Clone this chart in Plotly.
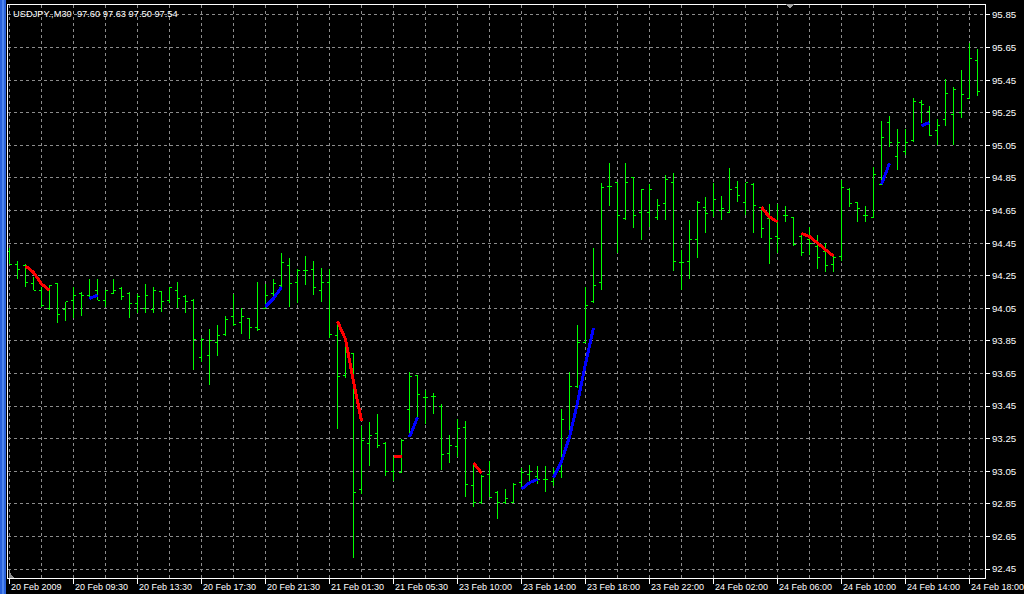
import plotly.graph_objects as go

# ---- data (USDJPY M30, bar index 0..121) ----
opens = [94.40,94.32,94.31,94.20,94.16,94.05,94.20,94.04,94.10,94.14,
         94.13,94.16,94.10,94.14,94.17,94.14,94.08,94.05,94.04,94.15,
         94.10,94.16,94.12,94.10,93.75,93.76,93.84,93.89,94.00,93.96,
         93.99,93.93,94.05,94.14,94.19,94.31,94.21,94.28,94.29,94.16,
         94.21,93.88,93.64,93.77,92.94,93.22,93.28,93.22,93.05,93.04,
         93.43,93.64,93.50,93.51,93.45,93.16,93.20,93.32,92.96,92.86,
         93.03,92.92,92.86,92.86,92.98,93.03,93.02,93.00,92.99,93.05,
         93.26,93.57,93.84,94.09,94.21,94.80,94.82,94.60,94.85,94.64,
         94.64,94.61,94.69,94.82,94.33,94.34,94.47,94.67,94.65,94.65,
         94.64,94.79,94.70,94.81,94.67,94.60,94.49,94.62,94.61,94.49,
         94.47,94.43,94.40,94.32,94.37,94.78,94.70,94.62,94.61,94.81,
         95.19,94.98,95.01,95.08,95.31,95.26,95.14,95.21,95.24,95.25,
         95.34,95.57]
highs = [94.42,94.34,94.32,94.24,94.18,94.19,94.20,94.09,94.18,94.15,
         94.23,94.23,94.16,94.23,94.18,94.15,94.14,94.20,94.18,94.15,
         94.18,94.21,94.13,94.11,93.87,93.92,93.95,94.00,94.14,94.05,
         93.99,94.21,94.20,94.23,94.39,94.36,94.29,94.37,94.34,94.30,
         94.29,93.97,93.87,93.77,93.33,93.35,93.40,93.23,93.14,93.25,
         93.66,93.64,93.55,93.53,93.46,93.27,93.37,93.36,93.10,93.03,
         93.11,92.93,92.94,92.98,93.07,93.09,93.08,93.08,93.07,93.43,
         93.66,93.95,94.18,94.42,94.82,94.94,94.82,94.94,94.85,94.78,
         94.81,94.72,94.87,94.88,94.41,94.59,94.71,94.73,94.82,94.74,
         94.91,94.83,94.82,94.82,94.67,94.69,94.69,94.68,94.61,94.51,
         94.55,94.50,94.45,94.38,94.84,94.79,94.70,94.68,94.92,95.20,
         95.23,95.15,95.15,95.34,95.33,95.29,95.21,95.46,95.41,95.51,
         95.68,95.64]
lows = [94.32,94.23,94.18,94.16,94.06,94.04,93.96,93.97,93.99,94.00,
        94.11,94.10,94.06,94.14,94.10,93.99,94.02,94.02,94.02,94.03,
        94.08,94.05,94.02,93.67,93.72,93.58,93.76,93.88,93.94,93.89,
        93.86,93.91,94.05,94.10,94.17,94.06,94.08,94.19,94.13,94.09,
        93.87,93.31,93.62,92.52,92.91,93.08,93.19,93.02,92.99,93.04,
        93.26,93.37,93.34,93.40,93.06,93.10,93.14,92.89,92.83,92.85,
        92.89,92.76,92.85,92.86,92.94,92.97,92.97,92.92,92.96,93.01,
        93.24,93.56,93.84,94.08,94.16,94.68,94.39,94.59,94.54,94.47,
        94.55,94.59,94.59,94.28,94.16,94.23,94.36,94.51,94.61,94.59,
        94.64,94.70,94.62,94.51,94.48,94.32,94.39,94.58,94.43,94.37,
        94.38,94.29,94.27,94.27,94.34,94.67,94.58,94.58,94.61,94.81,
        95.04,94.90,94.99,95.07,95.19,95.11,95.05,95.17,95.05,95.22,
        95.34,95.35]
closes = [94.32,94.29,94.21,94.16,94.07,94.19,94.01,94.09,94.13,94.13,
          94.11,94.10,94.16,94.16,94.12,94.08,94.12,94.13,94.16,94.09,
          94.18,94.11,94.09,93.86,93.86,93.85,93.88,93.98,93.95,94.00,
          93.93,93.92,94.13,94.20,94.33,94.20,94.28,94.28,94.18,94.21,
          93.89,93.63,93.83,92.92,93.24,93.27,93.21,93.05,93.14,93.24,
          93.63,93.52,93.50,93.51,93.15,93.21,93.31,92.97,92.86,93.02,
          92.89,92.86,92.88,92.97,93.04,93.05,93.00,93.00,93.05,93.37,
          93.57,93.84,94.07,94.19,94.79,94.80,94.62,94.82,94.62,94.78,
          94.78,94.68,94.84,94.34,94.33,94.47,94.70,94.63,94.72,94.66,
          94.78,94.74,94.82,94.68,94.54,94.48,94.48,94.62,94.44,94.39,
          94.45,94.36,94.31,94.36,94.79,94.69,94.66,94.62,94.87,95.10,
          95.07,95.07,95.07,95.32,95.30,95.11,95.17,95.37,95.39,95.36,
          95.58,95.38]

# indicator segments (None separates segments)
red_x = [2, 3, 4, 5, None, 41, 42, 43, 44, None, 48, 49, None, 58, 59, None,
         94, 95, 96, None, 99, 100, 101, 102, 103]
red_y = [94.31, 94.27, 94.20, 94.16, None, 93.97, 93.86, 93.60, 93.36, None,
         93.14, 93.14, None, 93.10, 93.04, None, 94.67, 94.61, 94.58, None,
         94.51, 94.49, 94.45, 94.41, 94.37]
blue_x = [10, 11, None, 32, 33, 34, None, 50, 51, None, 64, 65, 66, None,
          68, 69, 70, 71, 72, 73, None, 109, 110, None, 114, 115]
blue_y = [94.11, 94.13, None, 94.06, 94.11, 94.18, None, 93.26, 93.38, None,
          92.94, 92.98, 93.00, None, 93.01, 93.11, 93.26, 93.47, 93.71, 93.93,
          None, 94.81, 94.94, None, 95.17, 95.19]

x_tick_pos = [0, 8, 16, 24, 32, 40, 48, 56, 64, 72, 80, 88, 96, 104, 112, 120]
x_tick_labels = ["20 Feb 2009", "20 Feb 09:30", "20 Feb 13:30", "20 Feb 17:30",
                 "20 Feb 21:30", "21 Feb 01:30", "21 Feb 05:30", "23 Feb 10:00",
                 "23 Feb 14:00", "23 Feb 18:00", "23 Feb 22:00", "24 Feb 02:00",
                 "24 Feb 06:00", "24 Feb 10:00", "24 Feb 14:00", "24 Feb 18:00"]
y_tick_vals = [92.45, 92.65, 92.85, 93.05, 93.25, 93.45, 93.65, 93.85, 94.05,
               94.25, 94.45, 94.65, 94.85, 95.05, 95.25, 95.45, 95.65, 95.85]
title_text = "USDJPY.,M30\u00a0 97.60 97.63 97.50 97.54"

FONT = "Tahoma, 'Liberation Sans', Arial, sans-serif"
FS = 9.3
GRID = "#8c8c8c"

bars = list(range(len(opens)))

fig = go.Figure()
fig.add_trace(go.Ohlc(
    x=bars, open=opens, high=highs, low=lows, close=closes,
    increasing=dict(line=dict(color="#00ff00", width=1)),
    decreasing=dict(line=dict(color="#00ff00", width=1)),
    tickwidth=0.35, hoverinfo="skip", showlegend=False))
fig.add_trace(go.Scatter(x=red_x, y=red_y, mode="lines", connectgaps=False,
                         line=dict(color="#ff0000", width=3), showlegend=False,
                         hoverinfo="skip"))
fig.add_trace(go.Scatter(x=blue_x, y=blue_y, mode="lines", connectgaps=False,
                         line=dict(color="#0000ff", width=3), showlegend=False,
                         hoverinfo="skip"))

W, H = 1024, 594
ml, mr, mt, mb = 8, 39, 5, 16
plot_h = H - mt - mb
pw = W - ml - mr

annotations = []
for pos, lab in zip(x_tick_pos, x_tick_labels):
    annotations.append(dict(x=pos, xref="x", y=-9 / plot_h, yref="paper",
                            text=lab, showarrow=False, xanchor="left",
                            yanchor="middle", xshift=-1,
                            font=dict(family=FONT, size=9.0, color="white")))
annotations.append(dict(x=3 / pw, xref="paper", y=1 - 9 / plot_h,
                        yref="paper", text=title_text, showarrow=False,
                        xanchor="left", yanchor="middle",
                        font=dict(family=FONT, size=FS, color="white")))

shapes = [
    # window frame strip on the left
    dict(type="rect", xref="paper", yref="paper", x0=-8 / pw, x1=-2 / pw,
         y0=-mb / plot_h, y1=1 + mt / plot_h, fillcolor="#2a62dc",
         line=dict(width=0), layer="above"),
    dict(type="rect", xref="paper", yref="paper", x0=-6 / pw, x1=-4 / pw,
         y0=-mb / plot_h, y1=1 + mt / plot_h, fillcolor="#4f86ee",
         line=dict(width=0), layer="above"),
    # chart shift marker at the top
    dict(type="path", xref="paper", yref="paper",
         path=f"M {778/pw} {1+1/plot_h} L {786/pw} {1+1/plot_h} L {782/pw} {1-4/plot_h} Z",
         fillcolor="#a0a0a0", line=dict(width=0), layer="above"),
    # corner marker bottom-left
    dict(type="path", xref="paper", yref="paper",
         path=f"M {1/pw} 0 L {1/pw} {7/plot_h} L {6/pw} 0 Z",
         fillcolor="#8c8c8c", line=dict(width=0), layer="above"),
]

fig.update_layout(
    width=W, height=H,
    margin=dict(l=ml, r=mr, t=mt, b=mb, pad=0),
    paper_bgcolor="black", plot_bgcolor="black",
    showlegend=False,
    font=dict(family=FONT, size=FS, color="white"),
    annotations=annotations, shapes=shapes,
    xaxis=dict(range=[-0.1875, 121.9375], rangeslider=dict(visible=False),
               tickmode="array", tickvals=x_tick_pos, showticklabels=False,
               ticks="outside", ticklen=5, tickcolor="white", tickwidth=1,
               showgrid=True, gridcolor=GRID, griddash="3px,3px", gridwidth=1,
               minor=dict(tickmode="linear", tick0=0, dtick=4, showgrid=True,
                          gridcolor=GRID, griddash="3px,3px", gridwidth=1,
                          ticks=""),
               showline=True, linecolor="white", linewidth=1, mirror=True,
               zeroline=False, fixedrange=True),
    yaxis=dict(range=[92.395, 95.911], side="right",
               tickmode="array", tickvals=y_tick_vals,
               ticktext=[f"{v:.2f}" for v in y_tick_vals],
               ticks="outside", ticklen=4, tickcolor="white",
               tickfont=dict(family=FONT, size=FS + 0.4, color="white"),
               showgrid=True, gridcolor=GRID, griddash="3px,3px", gridwidth=1,
               showline=True, linecolor="white", linewidth=1, mirror=True,
               zeroline=False, fixedrange=True),
)

post = (
    "document.body.style.margin='0';"
    "document.body.style.background='black';"
    "var st=document.createElement('style');"
    "st.textContent='.main-svg path{shape-rendering:crispEdges !important;}';"
    "document.head.appendChild(st);"
)
fig.write_html("out.html", post_script=post,
               config={"displayModeBar": False, "staticPlot": True})
